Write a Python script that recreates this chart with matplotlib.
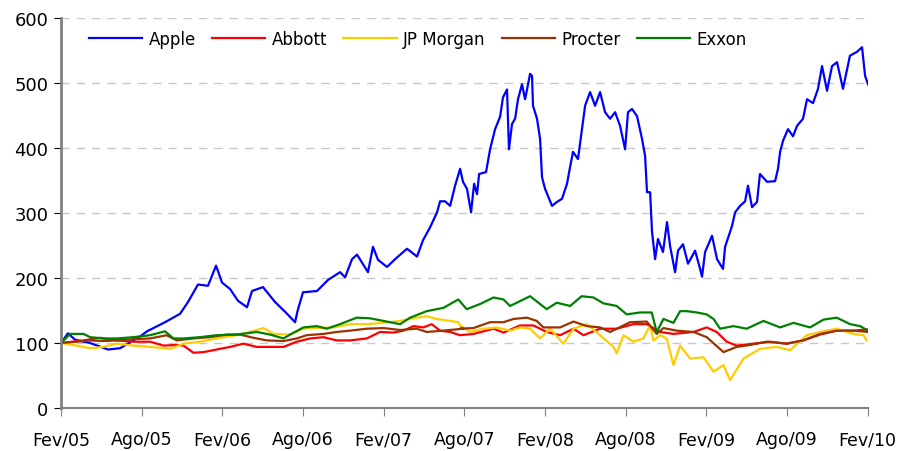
import matplotlib
matplotlib.use("Agg")
import matplotlib.pyplot as plt

# time in decimal years (Fev/05 = 2005.083)
apple_t = [2005.083, 2005.126, 2005.170, 2005.263, 2005.374, 2005.449, 2005.573, 2005.616, 2005.728, 2005.821,
           2005.870, 2005.932, 2005.994, 2006.044, 2006.081, 2006.131, 2006.180, 2006.236, 2006.267, 2006.335,
           2006.410, 2006.472, 2006.534, 2006.550, 2006.583, 2006.670, 2006.738, 2006.813, 2006.844, 2006.887,
           2006.918, 2006.986, 2007.017, 2007.048, 2007.104, 2007.154, 2007.228, 2007.290, 2007.327, 2007.371,
           2007.414, 2007.433, 2007.464, 2007.495, 2007.526, 2007.557, 2007.575, 2007.600, 2007.625, 2007.644,
           2007.662, 2007.675, 2007.718, 2007.743, 2007.774, 2007.805, 2007.823, 2007.848, 2007.860, 2007.879,
           2007.898, 2007.916, 2007.941, 2007.960, 2007.991, 2008.003, 2008.009, 2008.034, 2008.053, 2008.065,
           2008.084, 2008.102, 2008.127, 2008.158, 2008.189, 2008.220, 2008.239, 2008.257, 2008.288, 2008.313,
           2008.332, 2008.363, 2008.394, 2008.425, 2008.456, 2008.487, 2008.518, 2008.549, 2008.580, 2008.598,
           2008.623, 2008.654, 2008.685, 2008.704, 2008.716, 2008.735, 2008.747, 2008.766, 2008.784, 2008.815,
           2008.840, 2008.859, 2008.890, 2008.908, 2008.939, 2008.970, 2009.014, 2009.045, 2009.057, 2009.076,
           2009.119, 2009.150, 2009.187, 2009.200, 2009.243, 2009.262, 2009.293, 2009.324, 2009.342, 2009.367,
           2009.398, 2009.416, 2009.460, 2009.510, 2009.528, 2009.541, 2009.559, 2009.590, 2009.621, 2009.646,
           2009.683, 2009.708, 2009.745, 2009.776, 2009.801, 2009.832, 2009.863, 2009.894, 2009.931, 2009.974,
           2010.018, 2010.049, 2010.068, 2010.086]
apple_v = [100, 115, 105, 100, 90, 92, 110, 118, 132, 145,
           163, 190, 188, 219, 193, 183, 165, 155, 180, 186,
           163, 148, 132, 150, 178, 180, 197, 209, 201, 229,
           236, 209, 248, 228, 217, 229, 245, 233, 258, 278,
           301, 318, 318, 311, 342, 368, 348, 337, 301, 345,
           329, 360, 363, 398, 429, 448, 478, 490, 398, 437,
           445, 475, 498, 475, 514, 511, 465, 445, 414, 355,
           337, 326, 311, 317, 322, 345, 371, 394, 383, 429,
           465, 486, 465, 486, 455, 445, 455, 434, 398, 455,
           460, 449, 414, 388, 332, 332, 271, 229, 260, 240,
           286, 249, 209, 242, 252, 222, 242, 214, 202, 240,
           265, 229, 214, 248, 280, 301, 311, 318, 342, 309,
           317, 360, 348, 349, 368, 394, 411, 429, 418, 434,
           445, 475, 469, 491, 526, 488, 526, 532, 491, 542,
           548, 555, 511, 498]

exxon_t = [2005.083, 2005.139, 2005.222, 2005.263, 2005.346, 2005.428, 2005.532, 2005.635, 2005.728, 2005.780,
           2005.842, 2005.945, 2006.048, 2006.172, 2006.296, 2006.379, 2006.462, 2006.503, 2006.586, 2006.668,
           2006.730, 2006.813, 2006.916, 2006.999, 2007.082, 2007.185, 2007.247, 2007.350, 2007.453, 2007.546,
           2007.598, 2007.681, 2007.764, 2007.826, 2007.867, 2007.991, 2008.094, 2008.156, 2008.239, 2008.311,
           2008.384, 2008.446, 2008.528, 2008.590, 2008.673, 2008.745, 2008.776, 2008.818, 2008.880, 2008.921,
           2008.962, 2009.024, 2009.086, 2009.128, 2009.169, 2009.252, 2009.334, 2009.438, 2009.541, 2009.624,
           2009.727, 2009.810, 2009.892, 2009.975, 2010.037, 2010.086]
exxon_v = [100, 114, 114, 109, 107, 107, 109, 112, 118, 107,
           107, 109, 112, 113, 117, 113, 107, 113, 124, 126,
           122, 129, 139, 138, 134, 129, 139, 149, 154, 167,
           152, 160, 170, 167, 157, 172, 152, 162, 157, 172,
           170, 161, 157, 144, 147, 147, 117, 137, 131, 149,
           149, 147, 144, 137, 122, 126, 122, 134, 124, 131,
           124, 136, 139, 129, 126, 119]

abbott_t = [2005.083, 2005.222, 2005.325, 2005.428, 2005.532, 2005.635, 2005.718, 2005.800, 2005.842, 2005.904,
            2005.966, 2006.048, 2006.131, 2006.214, 2006.296, 2006.379, 2006.462, 2006.544, 2006.627, 2006.710,
            2006.792, 2006.875, 2006.978, 2007.061, 2007.144, 2007.206, 2007.268, 2007.330, 2007.381, 2007.433,
            2007.495, 2007.557, 2007.640, 2007.764, 2007.826, 2007.929, 2008.012, 2008.094, 2008.177, 2008.260,
            2008.322, 2008.425, 2008.528, 2008.631, 2008.714, 2008.797, 2008.880, 2009.004, 2009.086, 2009.148,
            2009.210, 2009.272, 2009.376, 2009.479, 2009.582, 2009.684, 2009.789, 2009.892, 2009.996, 2010.088]
abbott_v = [100, 104, 108, 104, 102, 102, 96, 97, 96, 85,
            86, 90, 94, 99, 94, 94, 94, 102, 107, 109,
            104, 104, 107, 117, 116, 119, 126, 124, 129, 119,
            117, 112, 114, 122, 116, 127, 127, 117, 112, 122,
            112, 122, 122, 129, 129, 117, 114, 117, 124, 117,
            102, 96, 99, 102, 99, 104, 113, 119, 119, 121]

jpm_t = [2005.083, 2005.180, 2005.263, 2005.346, 2005.428, 2005.532, 2005.635, 2005.759, 2005.842, 2005.945,
         2006.048, 2006.172, 2006.255, 2006.338, 2006.400, 2006.503, 2006.586, 2006.668, 2006.772, 2006.875,
         2006.978, 2007.082, 2007.185, 2007.288, 2007.350, 2007.412, 2007.495, 2007.546, 2007.557, 2007.619,
         2007.702, 2007.784, 2007.867, 2007.929, 2007.991, 2008.053, 2008.115, 2008.197, 2008.260, 2008.342,
         2008.425, 2008.508, 2008.528, 2008.570, 2008.631, 2008.693, 2008.735, 2008.756, 2008.797, 2008.838,
         2008.880, 2008.921, 2008.984, 2009.066, 2009.128, 2009.190, 2009.231, 2009.314, 2009.417, 2009.520,
         2009.603, 2009.706, 2009.789, 2009.892, 2009.996, 2010.058, 2010.078]
jpm_v = [100, 96, 92, 94, 99, 96, 94, 91, 99, 102,
         107, 112, 117, 123, 114, 113, 122, 123, 124, 129,
         129, 131, 134, 139, 141, 137, 134, 132, 127, 117,
         122, 124, 119, 124, 122, 107, 122, 99, 122, 129,
         112, 94, 84, 112, 102, 107, 127, 104, 112, 107,
         66, 96, 76, 78, 56, 66, 43, 76, 91, 94,
         89, 112, 117, 122, 114, 112, 104]

procter_t = [2005.083, 2005.180, 2005.263, 2005.346, 2005.428, 2005.532, 2005.635, 2005.738, 2005.800, 2005.904,
             2006.007, 2006.110, 2006.193, 2006.276, 2006.358, 2006.462, 2006.544, 2006.606, 2006.710, 2006.792,
             2006.875, 2006.978, 2007.082, 2007.185, 2007.288, 2007.350, 2007.453, 2007.577, 2007.557, 2007.640,
             2007.743, 2007.826, 2007.888, 2007.971, 2008.032, 2008.074, 2008.177, 2008.260, 2008.342, 2008.425,
             2008.487, 2008.611, 2008.714, 2008.776, 2008.818, 2008.900, 2009.004, 2009.086, 2009.190, 2009.272,
             2009.355, 2009.458, 2009.582, 2009.684, 2009.789, 2009.892, 2009.996, 2010.088]
procter_v = [100, 102, 104, 103, 104, 106, 107, 112, 104, 107,
             109, 113, 113, 108, 104, 103, 107, 112, 114, 117,
             119, 122, 123, 120, 122, 117, 119, 122, 122, 123,
             132, 132, 137, 139, 134, 124, 124, 133, 126, 124,
             117, 132, 133, 114, 123, 119, 117, 109, 86, 94,
             97, 102, 99, 104, 114, 119, 119, 117]

series_names = ["Apple", "Abbott", "JP Morgan", "Procter", "Exxon"]
series_colors = ["#0000FF", "#FF0000", "#FFCC00", "#993300", "#008000"]
series_data = [(apple_t, apple_v), (abbott_t, abbott_v), (jpm_t, jpm_v),
               (procter_t, procter_v), (exxon_t, exxon_v)]

x_ticks = [2005.083, 2005.583, 2006.083, 2006.583, 2007.083, 2007.583,
           2008.083, 2008.583, 2009.083, 2009.583, 2010.083]
x_labels = ["Fev/05", "Ago/05", "Fev/06", "Ago/06", "Fev/07", "Ago/07",
            "Fev/08", "Ago/08", "Fev/09", "Ago/09", "Fev/10"]
y_ticks = [0, 100, 200, 300, 400, 500, 600]

plt.rcParams['font.family'] = ['DejaVu Sans']
fig = plt.figure(figsize=(9.07, 4.52), dpi=100)
ax = fig.add_axes([0.0673, 0.0951, 0.8897, 0.8629])

for (t, v), name, col in zip(series_data, series_names, series_colors):
    ax.plot(t, v, color=col, lw=1.6, label=name)

ax.set_xlim(2005.083, 2010.086)
ax.set_ylim(0, 600)
ax.set_xticks(x_ticks)
ax.set_xticklabels(x_labels, fontsize=12.5)
ax.set_yticks(y_ticks)
ax.set_yticklabels([str(v) for v in y_ticks], fontsize=13)

for yv in y_ticks[1:]:
    ax.axhline(yv, color="#C8C8C8", lw=1, dashes=(6, 5), zorder=0)

for s in ["top", "right"]:
    ax.spines[s].set_visible(False)
ax.spines["left"].set_color("#808080")
ax.spines["left"].set_linewidth(2)
ax.spines["bottom"].set_color("#808080")
ax.spines["bottom"].set_linewidth(1.5)
ax.tick_params(axis="x", direction="out", length=6, color="#808080", pad=10)
ax.tick_params(axis="y", direction="out", length=5, color="black", pad=4)

leg = ax.legend(ncol=5, loc="upper left", bbox_to_anchor=(0.02, 1.0), frameon=False,
                fontsize=12, handlelength=3.2, handletextpad=0.4, columnspacing=0.95,
                borderaxespad=0.3)

fig.savefig("out.png", dpi=100)
